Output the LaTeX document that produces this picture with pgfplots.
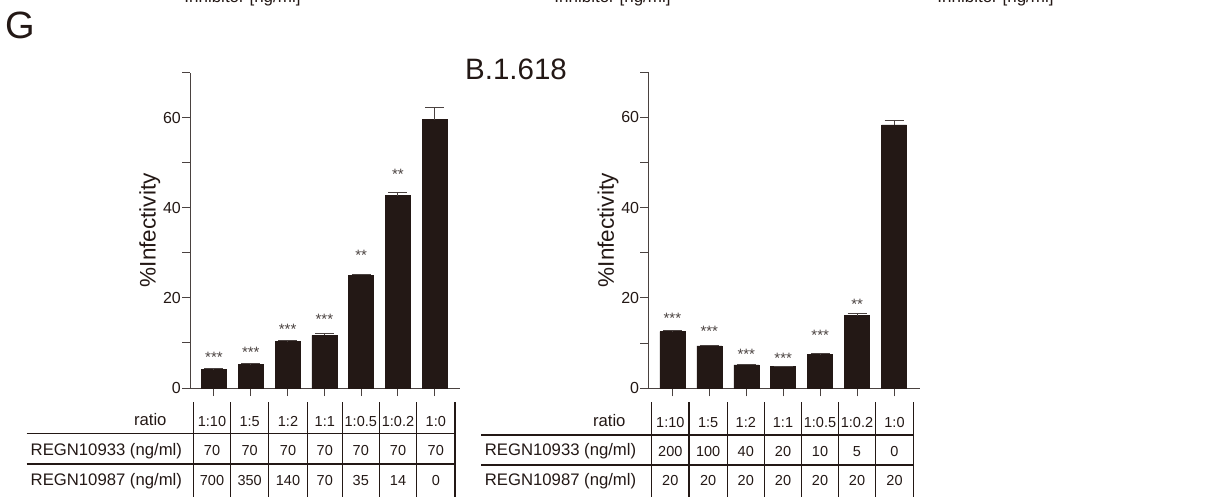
\documentclass[border=0pt]{standalone}
\usepackage{pgfplots}
\pgfplotsset{compat=1.18}
\usepackage{fontspec}
\setmainfont{Liberation Sans}
\definecolor{barc}{HTML}{231815}
\definecolor{axc}{HTML}{4A4240}
\definecolor{txt}{HTML}{231815}
\definecolor{errc}{HTML}{4A4240}
\newcommand{\fs}[1]{\fontsize{#1}{#1}\selectfont}
\pgfplotsset{
  myaxis/.style={
    anchor=south west, scale only axis,
    ymin=0, ymax=70,
    axis x line*=bottom, axis y line*=left,
    axis line style={-, line width=1pt, color=axc},
    xtick={0,...,6}, xticklabels={},
    ytick={0,20,40,60}, minor ytick={10,30,50,70},
    tick align=outside, major tick length=8pt, minor tick length=8pt,
    tick style={line width=1pt, color=axc},
    yticklabel style={font=\fs{16}, text=txt, inner xsep=1pt},
    /pgf/number format/assume math mode=true,
    ylabel={\%Infectivity},
    clip=false,
  },
  mybar/.style={ybar, bar width=25pt, bar shift=0pt, fill=barc, draw=barc, line width=0.5pt,
    error bars/.cd, y dir=plus, y explicit, error mark=|,
    error bar style={line width=1pt, color=errc},
    error mark options={line width=1pt, mark size=9.5pt, color=errc}},
  mystar/.style={only marks, mark=text, text mark={#1}, text mark as node=true,
    text mark style={font=\fs{15}, text=axc, anchor=base, yshift=-8.8pt, inner sep=0pt}},
}
\begin{document}
\begin{tikzpicture}
\path[use as bounding box] (0pt,0pt) rectangle (1209pt,-497pt);

% Left chart
\begin{axis}[myaxis, at={(190pt,-388pt)}, width=270pt, height=315.3pt, xmin=-0.652, xmax=6.685,
  ylabel style={at={(axis description cs:-0.1493,0.5)}, anchor=center, font=\fs{22.5}, text=txt}]
\addplot[mybar] coordinates {
 (0,4.1) +- (0,0.2)
 (1,5.3) +- (0,0.1)
 (2,10.4) +- (0,0.05)
 (3,11.7) +- (0,0.4)
 (4,25.0) +- (0,0.2)
 (5,42.7) +- (0,0.6)
 (6,59.6) +- (0,2.6)
};
\addplot[mystar={***}] coordinates {(0,7.7) (1,8.7) (2,13.8) (3,16.0)};
\addplot[mystar={**}] coordinates {(4,30.2) (5,48.3)};
\end{axis}

% Right chart
\begin{axis}[myaxis, at={(648.3pt,-388.3pt)}, width=271.7pt, height=316.2pt, xmin=-0.65, xmax=6.70,
  ylabel style={at={(axis description cs:-0.1483,0.5)}, anchor=center, font=\fs{22.5}, text=txt}]
\addplot[mybar] coordinates {
 (0,12.55) +- (0,0.3)
 (1,9.4) +- (0,0.1)
 (2,5.2) +- (0,0.1)
 (3,4.8) +- (0,0.05)
 (4,7.5) +- (0,0.2)
 (5,16.1) +- (0,0.5)
 (6,58.3) +- (0,1.0)
};
\addplot[mystar={***}] coordinates {(0,16.2) (1,13.4) (2,8.3) (3,7.4) (4,12.5)};
\addplot[mystar={**}] coordinates {(5,19.3)};
\end{axis}

\begin{scope}[x=1pt,y=-1pt]
% cut-off header texts
\node[font=\fs{17}, text=txt, anchor=base, inner sep=0pt] at (242.5,2.5) {Inhibitor [ng/ml]};
\node[font=\fs{17}, text=txt, anchor=base, inner sep=0pt] at (612.5,2.5) {Inhibitor [ng/ml]};
\node[font=\fs{17}, text=txt, anchor=base, inner sep=0pt] at (995.5,2.5) {Inhibitor [ng/ml]};
% panel letter and title
\node[font=\fs{38}, text=txt, anchor=base west, inner sep=0pt] at (5.5,38.3) {G};
\node[font=\fs{29.5}, text=txt, anchor=base west, inner sep=0pt] at (465,79.3) {B.1.618};

% tables
\begin{scope}[line width=1.1pt]
\foreach \x in {193.3,230.7,268.7,307.3,342.3,379.3,416.7,455}{\draw[barc] (\x,402) -- (\x,497);}
\draw[barc] (26.7,433.5) -- (455,433.5);
\draw[barc] (26.7,464) -- (455,464);
\foreach \x in {651.7,689,727.3,764.3,801.7,838.3,875.7,913.3}{\draw[barc] (\x,402) -- (\x,497);}
\draw[barc] (481,435) -- (913.3,435);
\draw[barc] (481,465) -- (913.3,465);
\end{scope}

\tikzset{lab/.style={font=\fs{16.7}, text=txt, inner sep=0pt}, cell/.style={font=\fs{14.5}, text=txt, inner sep=0pt, anchor=base}}
\node[lab, anchor=base east] at (166.7,425) {ratio};
\node[lab, anchor=base west] at (30.5,455.7) {REGN10933 (ng/ml)};
\node[lab, anchor=base west] at (30.5,485.5) {REGN10987 (ng/ml)};
\node[lab, anchor=base east] at (625.7,426) {ratio};
\node[lab, anchor=base west] at (484.7,455.7) {REGN10933 (ng/ml)};
\node[lab, anchor=base west] at (484.7,485.7) {REGN10987 (ng/ml)};

% left cells
\foreach \c/\r/\a/\b in {212/1:10/70/700, 249.7/1:5/70/350, 288/1:2/70/140, 324.8/1:1/70/70, 360.8/1:0.5/70/35, 398/1:0.2/70/14, 435.8/1:0/70/0}{
  \node[cell] at (\c,426.5) {\r};
  \node[cell] at (\c,455.5) {\a};
  \node[cell] at (\c,485.5) {\b};
}
% right cells
\foreach \c/\r/\a/\b in {670.3/1:10/200/20, 708.1/1:5/100/20, 745.8/1:2/40/20, 783/1:1/20/20, 820/1:0.5/10/20, 857/1:0.2/5/20, 894.5/1:0/0/20}{
  \node[cell] at (\c,427.5) {\r};
  \node[cell] at (\c,456) {\a};
  \node[cell] at (\c,485.7) {\b};
}
\end{scope}
\end{tikzpicture}
\end{document}
